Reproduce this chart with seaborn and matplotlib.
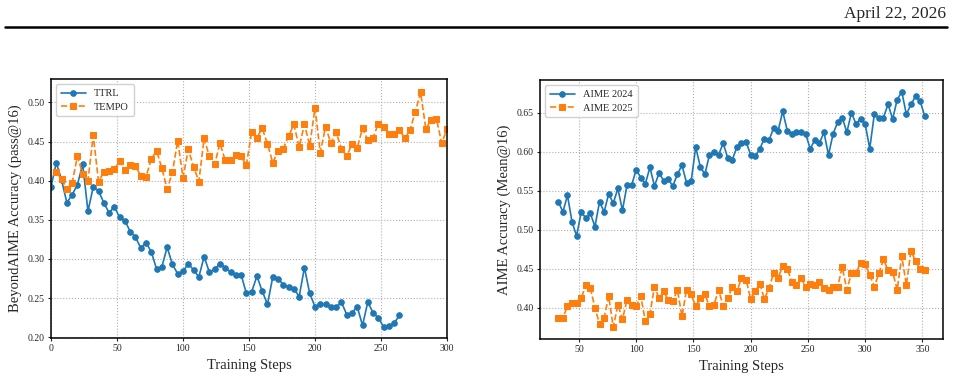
import numpy as np
import pandas as pd
import matplotlib
matplotlib.use("Agg")
import matplotlib.pyplot as plt
import seaborn as sns

# ---- data ----
ttrl_steps = list(range(0, 268, 4))
ttrl_vals = [0.392, 0.423, 0.401, 0.372, 0.382, 0.395, 0.421, 0.361, 0.392, 0.387,
             0.372, 0.359, 0.367, 0.353, 0.349, 0.335, 0.328, 0.314, 0.321, 0.309,
             0.287, 0.290, 0.315, 0.293, 0.281, 0.284, 0.294, 0.286, 0.277, 0.303,
             0.283, 0.287, 0.294, 0.289, 0.283, 0.279, 0.280, 0.256, 0.258, 0.278,
             0.259, 0.242, 0.277, 0.275, 0.267, 0.264, 0.262, 0.252, 0.289, 0.256,
             0.239, 0.242, 0.242, 0.238, 0.238, 0.245, 0.229, 0.231, 0.239, 0.215,
             0.245, 0.231, 0.225, 0.213, 0.214, 0.218, 0.228]

tempo_steps = list(range(4, 304, 4))
tempo_vals = [0.411, 0.402, 0.390, 0.397, 0.431, 0.409, 0.400, 0.458, 0.399, 0.411,
              0.412, 0.415, 0.425, 0.414, 0.420, 0.419, 0.406, 0.405, 0.428, 0.438,
              0.416, 0.389, 0.411, 0.451, 0.404, 0.440, 0.418, 0.399, 0.454, 0.431,
              0.421, 0.448, 0.426, 0.426, 0.433, 0.431, 0.420, 0.462, 0.455, 0.467,
              0.447, 0.423, 0.438, 0.441, 0.457, 0.472, 0.443, 0.472, 0.445, 0.493,
              0.436, 0.469, 0.448, 0.462, 0.441, 0.431, 0.447, 0.442, 0.467, 0.452,
              0.455, 0.473, 0.469, 0.460, 0.460, 0.465, 0.454, 0.465, 0.488, 0.513,
              0.466, 0.478, 0.479, 0.448, 0.466]

aime_steps = list(range(32, 356, 4))
aime24_vals = [0.536, 0.523, 0.544, 0.510, 0.492, 0.523, 0.515, 0.521, 0.504, 0.536,
               0.523, 0.546, 0.534, 0.553, 0.525, 0.557, 0.557, 0.577, 0.567, 0.559,
               0.580, 0.556, 0.573, 0.563, 0.565, 0.556, 0.571, 0.583, 0.560, 0.562,
               0.606, 0.581, 0.571, 0.596, 0.600, 0.596, 0.611, 0.592, 0.590, 0.606,
               0.611, 0.613, 0.596, 0.594, 0.604, 0.617, 0.615, 0.630, 0.627, 0.652,
               0.627, 0.623, 0.625, 0.625, 0.623, 0.604, 0.615, 0.611, 0.625, 0.596,
               0.623, 0.638, 0.644, 0.625, 0.650, 0.636, 0.642, 0.636, 0.604, 0.648,
               0.644, 0.644, 0.661, 0.642, 0.667, 0.677, 0.648, 0.661, 0.671, 0.665,
               0.646]
aime25_vals = [0.387, 0.387, 0.402, 0.406, 0.406, 0.412, 0.429, 0.425, 0.400, 0.379,
               0.387, 0.415, 0.375, 0.404, 0.385, 0.410, 0.404, 0.402, 0.415, 0.383,
               0.392, 0.427, 0.412, 0.421, 0.410, 0.408, 0.423, 0.389, 0.423, 0.417,
               0.402, 0.412, 0.417, 0.402, 0.404, 0.423, 0.402, 0.412, 0.427, 0.421,
               0.438, 0.436, 0.411, 0.421, 0.431, 0.411, 0.425, 0.444, 0.438, 0.454,
               0.450, 0.433, 0.429, 0.438, 0.427, 0.431, 0.429, 0.433, 0.425, 0.423,
               0.427, 0.427, 0.452, 0.423, 0.444, 0.444, 0.458, 0.456, 0.442, 0.427,
               0.444, 0.462, 0.448, 0.446, 0.423, 0.466, 0.429, 0.473, 0.460, 0.450,
               0.448]

left_xticks = [0, 50, 100, 150, 200, 250, 300]
left_yticks = [0.20, 0.25, 0.30, 0.35, 0.40, 0.45, 0.50]
right_xticks = [50, 100, 150, 200, 250, 300, 350]
right_yticks = [0.40, 0.45, 0.50, 0.55, 0.60, 0.65]

# ---- style ----
sns.set_style("ticks")
plt.rcParams["font.family"] = ["Liberation Serif", "DejaVu Serif"]
plt.rcParams["mathtext.fontset"] = "stix"

blue = "#1f77b4"
orange = "#ff7f0e"

fig = plt.figure(figsize=(9.54, 3.79), dpi=100)
ax1 = fig.add_axes([51 / 954, 1 - 338 / 379, 396 / 954, 259 / 379])
ax2 = fig.add_axes([540 / 954, 1 - 339 / 379, 403 / 954, 259 / 379])

df_ttrl = pd.DataFrame({"step": ttrl_steps, "acc": ttrl_vals})
df_tempo = pd.DataFrame({"step": tempo_steps, "acc": tempo_vals})
df24 = pd.DataFrame({"step": aime_steps, "acc": aime24_vals})
df25 = pd.DataFrame({"step": aime_steps, "acc": aime25_vals})

lw = 1.2
ms = 4.0
sns.lineplot(data=df_ttrl, x="step", y="acc", ax=ax1, color=blue, marker="o",
             markersize=ms, markeredgecolor=blue, linewidth=lw, label="TTRL")
sns.lineplot(data=df_tempo, x="step", y="acc", ax=ax1, color=orange, marker="s",
             markersize=ms, markeredgecolor=orange, linewidth=lw, linestyle="--",
             label="TEMPO")
sns.lineplot(data=df24, x="step", y="acc", ax=ax2, color=blue, marker="o",
             markersize=ms, markeredgecolor=blue, linewidth=lw, label="AIME 2024")
sns.lineplot(data=df25, x="step", y="acc", ax=ax2, color=orange, marker="s",
             markersize=ms, markeredgecolor=orange, linewidth=lw, linestyle="--",
             label="AIME 2025")

ax1.set_xlim(0, 300)
ax1.set_ylim(0.199, 0.53)
ax1.set_xticks(left_xticks)
ax1.set_yticks(left_yticks)
ax1.set_yticklabels([f"{v:.2f}" for v in left_yticks])
ax1.set_ylabel("BeyondAIME Accuracy (pass@16)", fontsize=10.5)

ax2.set_xticks(right_xticks)
ax2.set_yticks(right_yticks)
ax2.set_yticklabels([f"{v:.2f}" for v in right_yticks])
ax2.set_ylabel("AIME Accuracy (Mean@16)", fontsize=10.5)

for ax in (ax1, ax2):
    ax.set_xlabel("Training Steps", fontsize=10.5)
    ax.grid(True, linestyle=":", color="#b0b0b0", linewidth=0.8)
    ax.tick_params(labelsize=7, length=2.5, width=0.8, pad=2)
    for s in ax.spines.values():
        s.set_visible(True)
        s.set_color("black")
        s.set_linewidth(1.1)
    ax.legend(loc="upper left", fontsize=7.5, frameon=True, fancybox=True,
              edgecolor="#cccccc", framealpha=0.9, handlelength=2.4,
              borderpad=0.45, labelspacing=0.4)

# header
fig.text(946 / 954, 1 - 14 / 379, "April 22, 2026", ha="right", va="center",
         fontsize=12.5)
fig.add_artist(plt.Line2D([5 / 954, 947 / 954], [1 - 27 / 379, 1 - 27 / 379],
                          color="black", linewidth=1.8, transform=fig.transFigure))

fig.savefig("out.png", dpi=100)
